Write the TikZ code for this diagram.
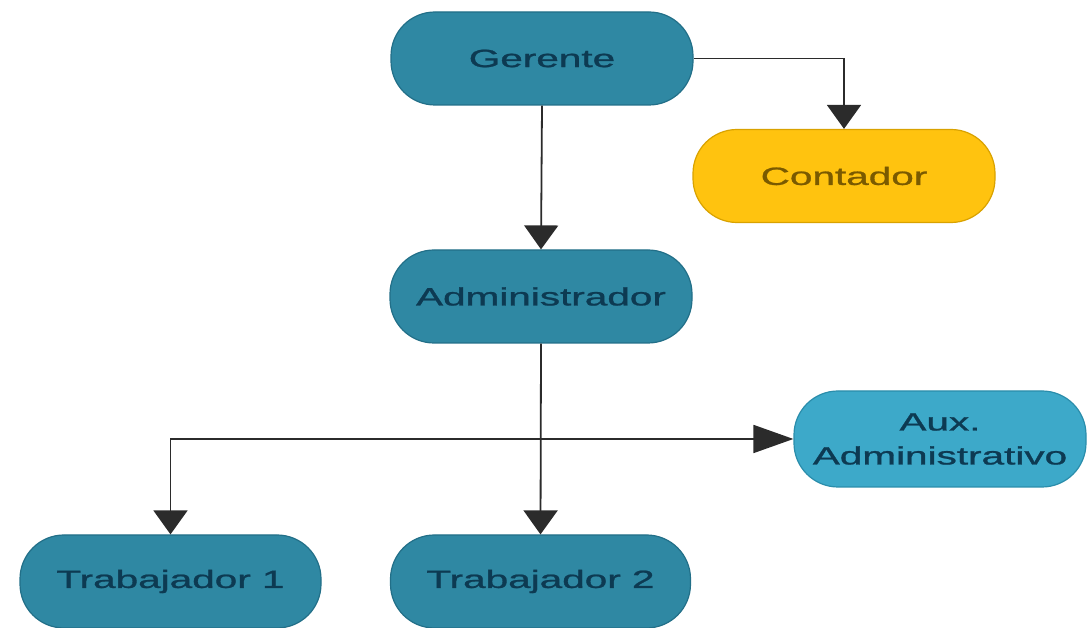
\documentclass[tikz,border=0pt]{standalone}
\usepackage{fontspec}
\setmainfont{Liberation Sans}
\newfontfamily\boxfont{Liberation Sans}[FakeBold=0.9]
\usepackage{graphicx}
\usetikzlibrary{arrows.meta}

\definecolor{tealfill}{HTML}{2F88A3}
\definecolor{tealline}{HTML}{226F88}
\definecolor{tealtext}{HTML}{0D3A52}
\definecolor{auxfill}{HTML}{3DA9C9}
\definecolor{auxline}{HTML}{2A8DAB}
\definecolor{goldfill}{HTML}{FFC30F}
\definecolor{goldline}{HTML}{D9A200}
\definecolor{goldtext}{HTML}{7A5A00}
\definecolor{wire}{HTML}{2B2B2B}

% wide lettering used in every box
\newcommand{\wide}[1]{\scalebox{1.62}[1]{#1}}

\tikzset{
  pill/.style={rounded corners=44pt, line width=1.2pt,
    minimum width=302pt, minimum height=93pt, inner sep=0pt,
    font=\boxfont\fontsize{25}{32}\selectfont, align=center},
  tealbox/.style={pill, fill=tealfill, draw=tealline, text=tealtext},
  auxbox/.style={pill, fill=auxfill, draw=auxline, text=tealtext,
    minimum width=292pt, minimum height=96pt,
    font=\boxfont\fontsize{25}{34}\selectfont},
  goldbox/.style={pill, fill=goldfill, draw=goldline, text=goldtext},
  link/.style={draw=wire, line width=1.8pt,
    -{Triangle[length=24pt,width=34pt]}},
  sidelink/.style={draw=wire, line width=1.8pt,
    -{Triangle[length=40pt,width=28pt]}}
}

\begin{document}
\begin{tikzpicture}[x=1pt,y=1pt]
  \useasboundingbox (0,0) rectangle (1087,628);

  \node[tealbox] (ger)  at (542,569.5) {\wide{Gerente}};
  \node[goldbox] (cont) at (844,452)   {\wide{Contador}};
  \node[tealbox] (adm)  at (541,331.5) {\wide{Administrador}};
  \node[auxbox]  (aux)  at (940,189)   {\wide{Aux.}\\\wide{Administrativo}};
  \node[tealbox, minimum width=301pt] (t1) at (170.5,46.5) {\wide{Trabajador 1}};
  \node[tealbox, minimum width=300pt] (t2) at (540.5,46.5) {\wide{Trabajador 2}};

  \coordinate (split) at (adm.south |- aux.west);

  \draw[link] (ger.south) -- (adm.north);
  \draw[link] (ger.east) -| (cont.north);
  \draw[link] (adm.south) -- (t2.north);
  \draw[link] (split) -| (t1.north);
  \draw[sidelink] (split) -- (aux.west);
\end{tikzpicture}
\end{document}
